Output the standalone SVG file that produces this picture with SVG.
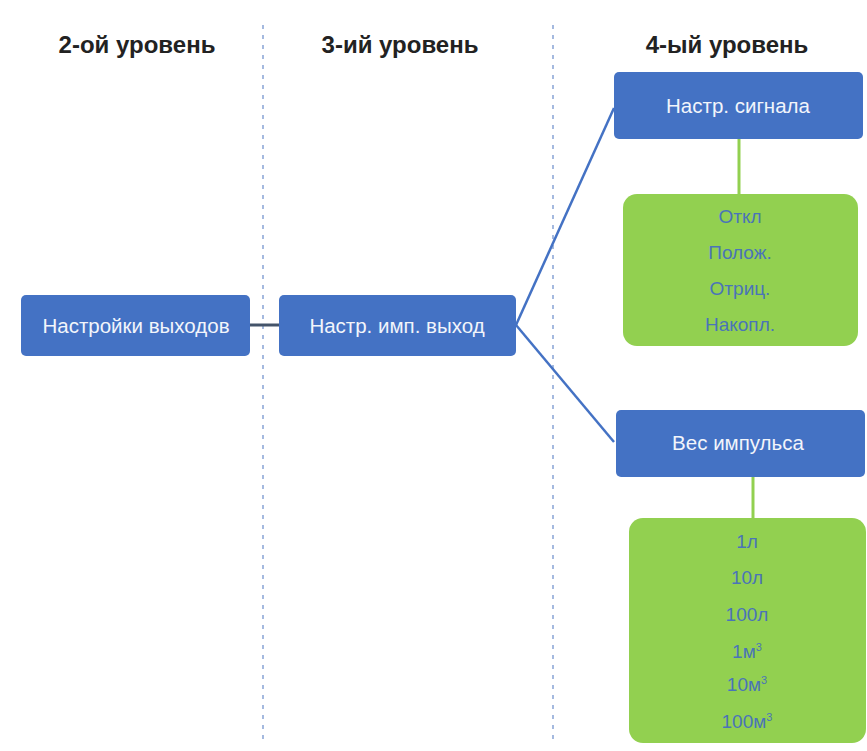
<svg xmlns="http://www.w3.org/2000/svg" width="867" height="751" viewBox="0 0 867 751">
<style>
.hdr{font-family:"Liberation Sans",Arial,sans-serif;font-weight:bold;font-size:24px;fill:#222222;text-anchor:middle}
.blue rect{fill:#4472C4}
.blue text{font-family:"Liberation Sans",Arial,sans-serif;font-size:20.5px;fill:#F2F5FB;text-anchor:middle}
.green rect{fill:#92D050}
.green text{font-family:"Liberation Sans",Arial,sans-serif;font-size:19px;fill:#4A74B8;text-anchor:middle}
.sep{stroke:#8FA9D8;stroke-width:1.6;stroke-dasharray:4 6;fill:none}
</style>
<rect width="867" height="751" fill="#ffffff"/>
<g id="headers">
<text class="hdr" x="137" y="53">2-ой уровень</text>
<text class="hdr" x="400" y="53">3-ий уровень</text>
<text class="hdr" x="727" y="53">4-ый уровень</text>
</g>
<g id="separators">
<line class="sep" x1="263" y1="25" x2="263" y2="740"/>
<line class="sep" x1="553" y1="25" x2="553" y2="740"/>
</g>
<g id="connectors" fill="none">
<line x1="250" y1="325" x2="279" y2="325" stroke="#44546A" stroke-width="3"/>
<line x1="516" y1="325" x2="614" y2="108" stroke="#4472C4" stroke-width="2.5"/>
<line x1="516" y1="325" x2="614" y2="442" stroke="#4472C4" stroke-width="2.5"/>
<line x1="739" y1="139" x2="739" y2="195" stroke="#92D050" stroke-width="3"/>
<line x1="753" y1="477" x2="753" y2="518" stroke="#92D050" stroke-width="3"/>
</g>
<g id="node-outputs" class="blue">
<rect x="21" y="295" width="229" height="61" rx="5"/>
<text x="136" y="333">Настройки выходов</text>
</g>
<g id="node-pulse-out" class="blue">
<rect x="279" y="295" width="237" height="61" rx="5"/>
<text x="397" y="333">Настр. имп. выход</text>
</g>
<g id="node-signal" class="blue">
<rect x="614" y="72" width="249" height="67" rx="5"/>
<text x="738" y="113">Настр. сигнала</text>
</g>
<g id="node-signal-options" class="green">
<rect x="623" y="194" width="235" height="152" rx="14"/>
<text x="740" y="223">Откл</text>
<text x="740" y="259">Полож.</text>
<text x="740" y="295">Отриц.</text>
<text x="740" y="331">Накопл.</text>
</g>
<g id="node-weight" class="blue">
<rect x="616" y="410" width="249" height="67" rx="5"/>
<text x="738" y="450">Вес импульса</text>
</g>
<g id="node-weight-options" class="green">
<rect x="629" y="518" width="237" height="225" rx="14"/>
<text x="747" y="548">1л</text>
<text x="747" y="584">10л</text>
<text x="747" y="621">100л</text>
<text x="747" y="658">1м<tspan dy="-7" font-size="11">3</tspan></text>
<text x="747" y="691">10м<tspan dy="-7" font-size="11">3</tspan></text>
<text x="747" y="728">100м<tspan dy="-7" font-size="11">3</tspan></text>
</g>
</svg>
